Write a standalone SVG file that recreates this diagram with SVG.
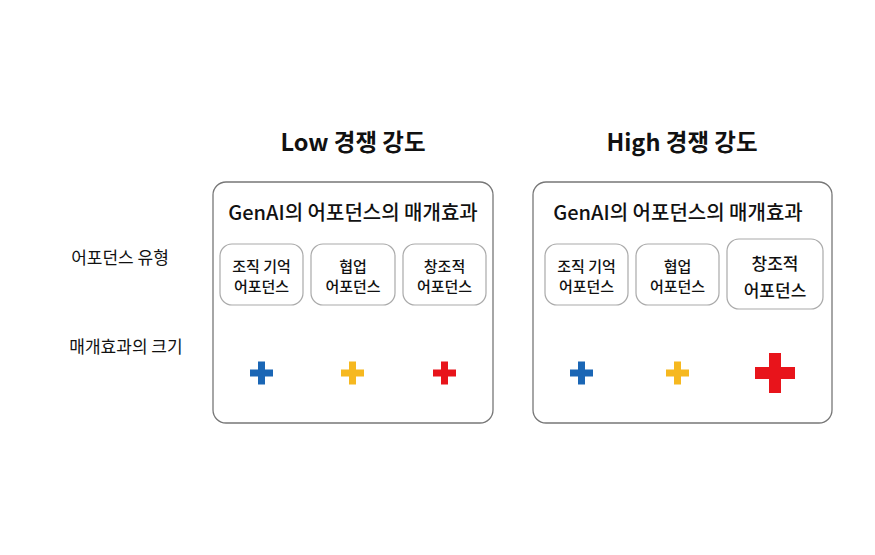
<svg xmlns="http://www.w3.org/2000/svg" width="875" height="555" viewBox="0 0 875 555">
<style>
text{font-family:"Noto Sans CJK KR","Noto Sans",sans-serif;fill:#111;text-anchor:middle;font-weight:500}
.big{fill:#fff;stroke:#777;stroke-width:1.3}
.sm{fill:#fff;stroke:#aaa;stroke-width:1.2}
.hd{font-size:23.5px;font-weight:700}
.tt{font-size:20px}
.lb{font-size:15px}
.lb2{font-size:17px}
.side{font-size:17px;font-weight:400}
.blue{fill:#1a66b5}.yel{fill:#f6b81f}.red{fill:#e8141b}
</style>
<rect width="875" height="555" fill="#fff"/>
<g id="side-labels">
<text class="side" x="120" y="264">어포던스 유형</text>
<text class="side" x="126" y="353">매개효과의 크기</text>
</g>
<g id="low">
<text class="hd" x="353" y="151">Low 경쟁 강도</text>
<rect class="big" x="213" y="182" width="280" height="241" rx="13"/>
<text class="tt" x="353" y="220">GenAI의 어포던스의 매개효과</text>
</g>
<g id="low-memory">
<rect class="sm" x="220" y="244" width="83" height="61" rx="12"/>
<text class="lb" x="261.5" y="272">조직 기억</text>
<text class="lb" x="261.5" y="292">어포던스</text>
</g>
<g id="low-collab">
<rect class="sm" x="311" y="244" width="84" height="61" rx="12"/>
<text class="lb" x="353" y="272">협업</text>
<text class="lb" x="353" y="292">어포던스</text>
</g>
<g id="low-creative">
<rect class="sm" x="403" y="244" width="83" height="61" rx="12"/>
<text class="lb" x="444.5" y="272">창조적</text>
<text class="lb" x="444.5" y="292">어포던스</text>
</g>
<g id="low-plus">
<path class="blue" d="M250,369.5h8v-8h7v8h8v7h-8v8h-7v-8h-8z"/>
<path class="yel" d="M341,369.5h8v-8h7v8h8v7h-8v8h-7v-8h-8z"/>
<path class="red" d="M433,369.5h8v-8h7v8h8v7h-8v8h-7v-8h-8z"/>
</g>
<g id="high">
<text class="hd" x="682" y="151">High 경쟁 강도</text>
<rect class="big" x="533" y="182" width="299" height="241" rx="13"/>
<text class="tt" x="678" y="220">GenAI의 어포던스의 매개효과</text>
</g>
<g id="high-memory">
<rect class="sm" x="545" y="244" width="83" height="61" rx="12"/>
<text class="lb" x="586.5" y="272">조직 기억</text>
<text class="lb" x="586.5" y="292">어포던스</text>
</g>
<g id="high-collab">
<rect class="sm" x="636" y="244" width="83" height="61" rx="12"/>
<text class="lb" x="677.5" y="272">협업</text>
<text class="lb" x="677.5" y="292">어포던스</text>
</g>
<g id="high-creative">
<rect class="sm" x="727" y="239" width="96" height="70" rx="12"/>
<text class="lb2" x="775" y="270">창조적</text>
<text class="lb2" x="775" y="297">어포던스</text>
</g>
<g id="high-plus">
<path class="blue" d="M570,369.5h8v-8h7v8h8v7h-8v8h-7v-8h-8z"/>
<path class="yel" d="M666,369.5h8v-8h7v8h8v7h-8v8h-7v-8h-8z"/>
<path class="red" d="M755,367h14v-14h12v14h14v12h-14v14h-12v-14h-14z"/>
</g>
<g id="connectors"></g>
</svg>
